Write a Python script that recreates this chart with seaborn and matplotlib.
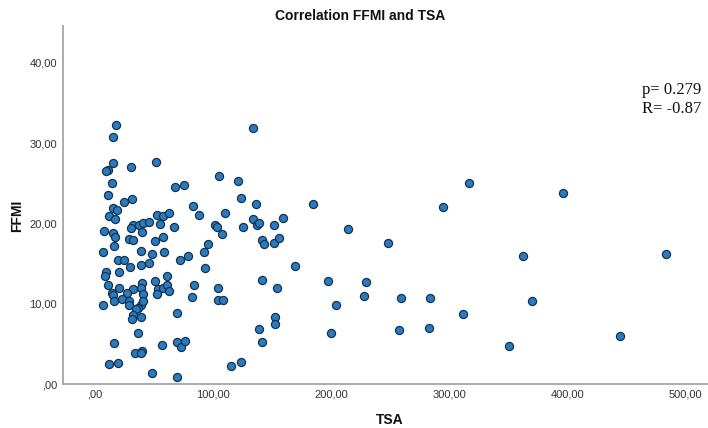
import matplotlib
matplotlib.use("Agg")
import matplotlib.pyplot as plt
import seaborn as sns
import pandas as pd

# ---- data (TSA, FFMI) ----
tsa = [
    17.8, 15.0, 15.5, 11.3, 9.3, 30.7, 51.7, 14.1, 68.0, 11.3, 24.3, 31.1, 15.5, 18.4, 11.6,
    16.9, 52.2, 57.8, 62.4, 32.4, 30.5, 37.5, 40.4, 46.0, 55.0, 7.9, 15.0, 39.5, 66.9, 16.9,
    29.0, 32.4, 50.8, 57.8, 16.3,
    6.5, 38.7, 48.3, 58.4, 19.5, 24.8, 29.6, 38.7, 45.5, 9.3, 8.5, 20.3, 61.2, 39.8, 50.8,
    11.3, 20.6, 32.4, 38.7, 53.6, 57.3, 60.7, 62.9, 14.1, 15.2, 26.8, 40.9, 52.2, 6.5, 16.3,
    22.9, 28.5, 28.8, 38.7, 40.9, 36.7, 34.7, 69.7, 32.4, 31.3, 38.7, 36.4, 16.1, 56.7, 69.2,
    72.6, 33.9, 39.5, 39.0, 11.6, 19.5, 48.0, 69.7,
    134.0, 105.3, 120.8, 123.4, 136.6, 184.8, 82.6, 75.6, 88.3, 109.7, 102.0, 103.5, 125.1,
    133.5, 136.9, 138.9, 151.8, 158.8, 214.0, 107.5, 141.2, 143.1, 151.8, 156.1, 95.9, 92.5,
    78.7, 72.4, 93.4, 169.3, 84.0, 104.0, 141.4, 153.9, 197.0, 82.4, 104.0, 108.0, 203.8,
    152.0, 152.2, 139.0, 141.7, 199.8, 75.9, 115.0, 123.4,
    316.4, 294.9, 396.5, 248.4, 362.7, 483.7, 229.7, 227.5, 258.8, 283.4, 369.8, 311.6,
    257.2, 282.6, 350.6, 444.5,
]
ffmi = [
    32.3, 30.8, 27.5, 26.7, 26.5, 27.0, 27.7, 25.1, 24.6, 23.6, 22.7, 23.0, 21.9, 21.7, 20.9,
    20.6, 21.0, 20.9, 21.3, 19.8, 19.4, 19.8, 20.0, 20.2, 19.9, 19.0, 18.8, 18.9, 19.5, 18.3,
    18.1, 18.0, 17.8, 18.3, 17.2,
    16.4, 16.6, 16.2, 16.5, 15.5, 15.5, 14.6, 14.8, 15.1, 14.0, 13.4, 13.9, 13.4, 12.6, 12.8,
    12.3, 11.9, 11.8, 11.9, 11.8, 11.9, 12.3, 11.6, 11.3, 11.1, 11.3, 11.2, 11.2, 9.9, 10.3,
    10.6, 10.3, 9.9, 9.9, 10.3, 9.5, 9.4, 8.9, 8.6, 8.1, 8.4, 6.3, 5.1, 4.8, 5.2,
    4.6, 3.9, 4.1, 3.8, 2.5, 2.6, 1.4, 0.9,
    31.9, 25.9, 25.3, 23.2, 22.4, 22.4, 22.2, 24.8, 21.0, 21.3, 19.8, 19.5, 19.6,
    20.5, 19.8, 20.0, 19.8, 20.7, 19.3, 18.7, 17.9, 17.5, 17.6, 18.2, 17.5, 16.4,
    15.9, 15.4, 14.4, 14.7, 12.3, 12.0, 12.9, 11.9, 12.8, 10.8, 10.5, 10.5, 9.9,
    8.4, 7.5, 6.9, 5.2, 6.4, 5.4, 2.3, 2.7,
    25.0, 22.0, 23.8, 17.6, 15.9, 16.2, 12.7, 11.0, 10.7, 10.7, 10.4, 8.7,
    6.7, 7.0, 4.7, 6.0,
]

x_ticks = [0, 100, 200, 300, 400, 500]
x_tick_labels = [",00", "100,00", "200,00", "300,00", "400,00", "500,00"]
y_ticks = [0, 10, 20, 30, 40]
y_tick_labels = [",00", "10,00", "20,00", "30,00", "40,00"]

title = "Correlation FFMI and TSA"
x_label = "TSA"
y_label = "FFMI"
stats_text = "p= 0.279\nR= -0.87"

df = pd.DataFrame({"TSA": tsa, "FFMI": ffmi})

sns.set_theme(style="white")
plt.rcParams["font.family"] = ["Liberation Sans", "DejaVu Sans"]

fig = plt.figure(figsize=(7.08, 4.28), dpi=100)
ax = fig.add_axes([62.7 / 708, 1 - 384 / 428, 1 - 62.7 / 708, (384 - 26) / 428])

sns.scatterplot(
    data=df, x="TSA", y="FFMI", ax=ax,
    s=34, color="#2a7bbd", edgecolor="#14324f", linewidth=0.9, zorder=3,
)

ax.set_xlim(-27.3, 518.9)
ax.set_ylim(0, 44.6)
ax.set_xticks(x_ticks)
ax.set_xticklabels(x_tick_labels)
ax.set_yticks(y_ticks)
ax.set_yticklabels(y_tick_labels)
ax.tick_params(axis="both", length=0, labelsize=8, colors="#333333", pad=4)

for side in ("top", "right"):
    ax.spines[side].set_visible(False)
for side in ("left", "bottom"):
    ax.spines[side].set_color("#ababab")
    ax.spines[side].set_linewidth(1.4)

ax.set_xlabel("")
ax.set_ylabel("")
ax.grid(False)

fig.text(360 / 708, 1 - 16 / 428, title, ha="center", va="center",
         fontsize=10, fontweight="bold", color="#111111")
fig.text(390 / 708, 1 - 420 / 428, x_label, ha="center", va="center",
         fontsize=10, fontweight="bold", color="#111111")
fig.text(17 / 708, 1 - 216 / 428, y_label, ha="center", va="center",
         rotation=90, fontsize=10, fontweight="bold", color="#111111")
fig.text(642 / 708, 1 - 99.5 / 428, stats_text, ha="left", va="center",
         fontsize=12, family=["Liberation Serif", "DejaVu Serif"],
         color="#111111", linespacing=1.25)

fig.savefig("out.png", dpi=100, facecolor="white")
